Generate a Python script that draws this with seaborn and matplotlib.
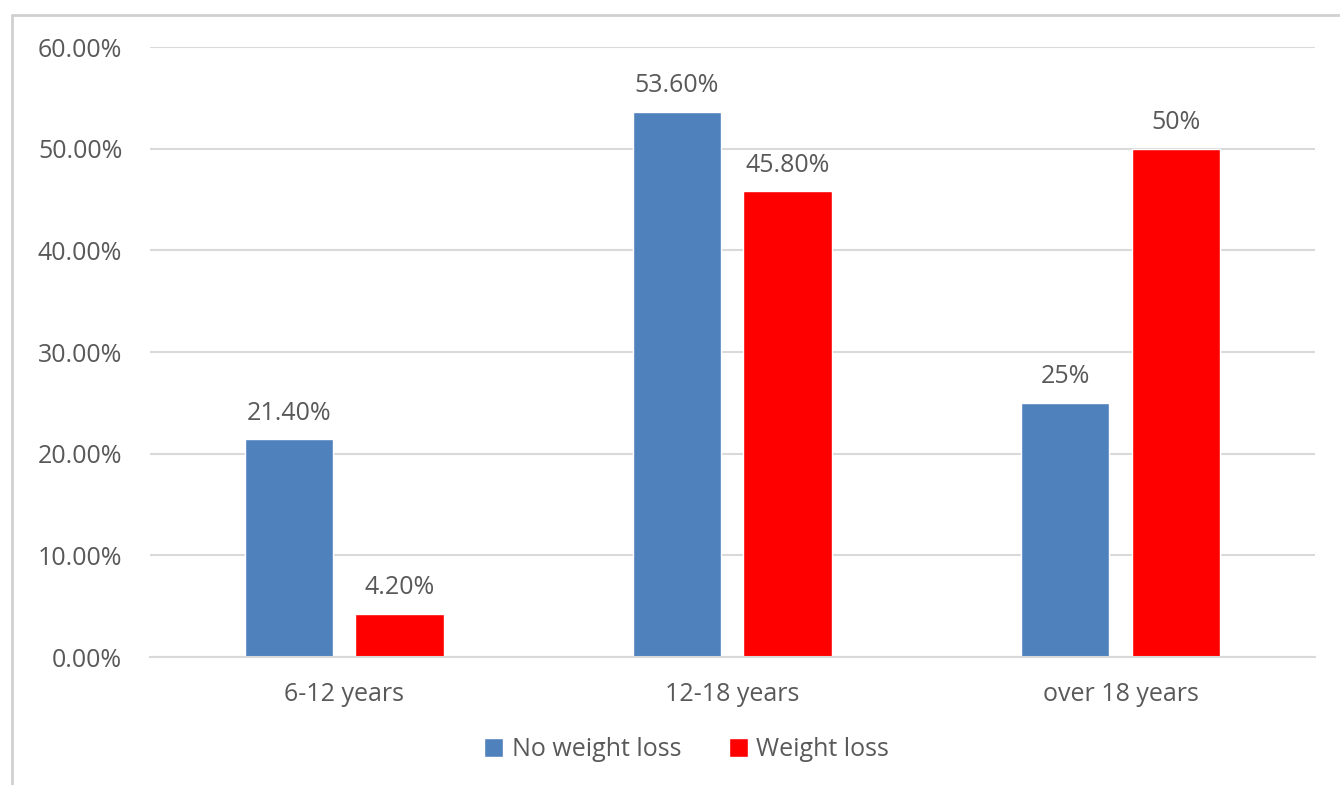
import pandas as pd
import numpy as np
import matplotlib.pyplot as plt
from matplotlib.lines import Line2D
import seaborn as sns

# Chart data
ages = ["6-12 years", "12-18 years", "over 18 years"]
no_loss = [21.4, 53.6, 25.0]
weight_loss = [4.2, 45.8, 50.0]
no_loss_labels = ["21.40%", "53.60%", "25%"]
weight_loss_labels = ["4.20%", "45.80%", "50%"]
groups = ["No weight loss", "Weight loss"]
colors = ["#4F81BD", "#FF0000"]

df = pd.DataFrame({
    "age": ages * 2,
    "value": no_loss + weight_loss,
    "group": [groups[0]] * 3 + [groups[1]] * 3,
})

sns.set_style("white")
plt.rcParams["font.family"] = ["Open Sans", "DejaVu Sans"]
text_color = "#595959"
fs = 18

fig = plt.figure(figsize=(13.4, 7.85), dpi=100)
ax = fig.add_axes([0.112, 0.163, 0.869, 0.777])

sns.barplot(data=df, x="age", y="value", hue="group", palette=colors,
            width=0.57, gap=0.2, ax=ax, saturation=1, legend=True)

# Data labels
for cont, labs in zip(ax.containers, [no_loss_labels, weight_loss_labels]):
    ax.bar_label(cont, labels=labs, padding=10, fontsize=fs, color=text_color)

ax.set_ylim(0, 60)
ax.set_yticks(np.arange(0, 61, 10))
ax.set_yticklabels([f"{v:.2f}%" for v in np.arange(0, 61, 10)])
ax.set_xlabel("")
ax.set_ylabel("")
ax.grid(axis="y", color="#D9D9D9", linewidth=1.5)
ax.set_axisbelow(True)
for s in ["top", "right", "left"]:
    ax.spines[s].set_visible(False)
ax.spines["bottom"].set_color("#D9D9D9")
ax.spines["bottom"].set_linewidth(1.5)
ax.tick_params(axis="both", length=0, labelsize=fs, labelcolor=text_color)
ax.tick_params(axis="y", pad=20)
ax.tick_params(axis="x", pad=18)

ax.legend(loc="center", bbox_to_anchor=(0.461, -0.152), ncol=2, frameon=False,
          fontsize=fs, labelcolor=text_color, handlelength=0.75, handleheight=0.75,
          handletextpad=0.35, columnspacing=1.9)

# outer chart-area border (top and left edges visible)
fig.add_artist(Line2D([12 / 1340, 12 / 1340], [0, 1 - 15 / 785],
                      color="#D0D0D0", linewidth=2, transform=fig.transFigure))
fig.add_artist(Line2D([12 / 1340, 1], [1 - 15 / 785, 1 - 15 / 785],
                      color="#D0D0D0", linewidth=2, transform=fig.transFigure))

fig.savefig("out.png", dpi=100)
